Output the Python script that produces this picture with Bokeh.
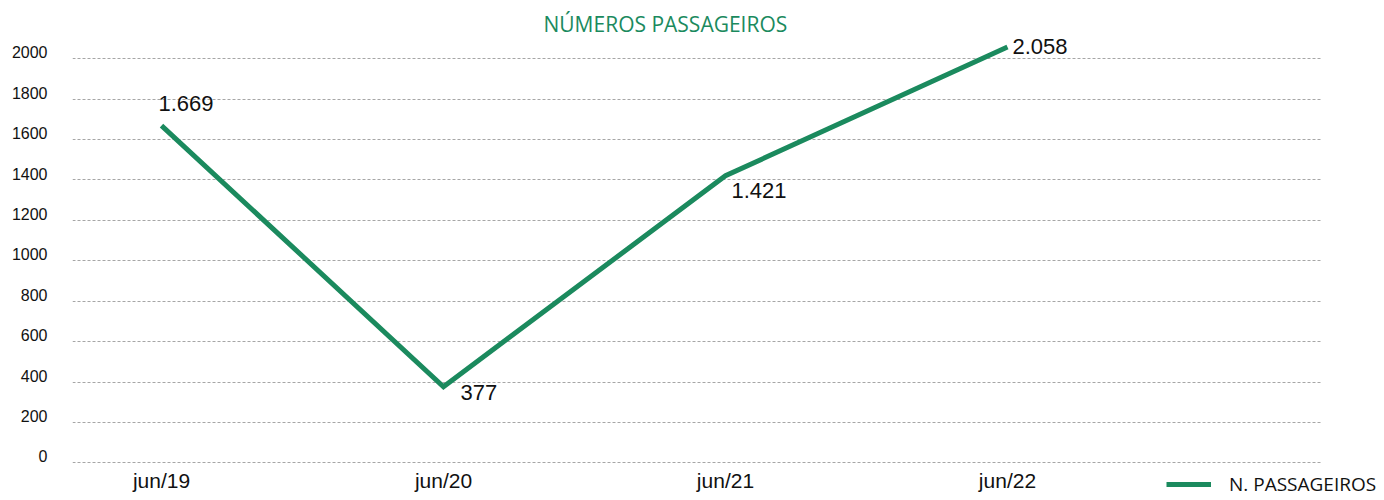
from bokeh.plotting import figure
from bokeh.models import (ColumnDataSource, LabelSet, Legend, LegendItem,
                          FixedTicker, Range1d, LinearAxis)
from bokeh.core.properties import value
from bokeh.embed import file_html
from bokeh.resources import INLINE

# ---- data ----
categories = ["jun/19", "jun/20", "jun/21", "jun/22"]
passengers = [1669, 377, 1421, 2058]
value_labels = ["1.669", "377", "1.421", "2.058"]
y_ticks = [0, 200, 400, 600, 800, 1000, 1200, 1400, 1600, 1800, 2000]
series_name = "N. PASSAGEIROS"
title_text = "NÚMEROS PASSAGEIROS"

# label offsets (style, px)
label_dx = [-3, 17, 6, 5]
label_dy = [22, -6, -15, 0]

GREEN = "#1b8a5e"
X_START, X_END, GRID_END = -0.3156, 4.337, 4.1135

x_idx = list(range(len(categories)))
src = ColumnDataSource(dict(x=x_idx, y=passengers, txt=value_labels,
                            dx=label_dx, dy=label_dy))

p = figure(width=1384, height=500, output_backend="svg",
           toolbar_location=None, y_axis_location=None,
           x_range=Range1d(X_START, X_END), y_range=Range1d(-186, 2100),
           min_border_left=72, min_border_right=0, min_border_top=38,
           min_border_bottom=0)
p.outline_line_color = None
p.background_fill_color = "white"
p.border_fill_color = "white"

p.title.text = title_text
p.title.align = "left"
p.title.text_font = "Open Sans"
p.title.text_font_style = "normal"
p.title.text_font_size = "21px"
p.title.text_color = GREEN
p.title.offset = 471
p.title.standoff = 2

# grid lines (dashed, ending before the legend area)
p.xgrid.grid_line_color = None
p.ygrid.ticker = FixedTicker(ticks=y_ticks)
try:
    p.ygrid.cross_bounds = (X_START, GRID_END)
    p.ygrid.grid_line_color = "#a6a6a6"
    p.ygrid.grid_line_dash = "3 2"
    p.ygrid.grid_line_width = 1
except Exception:
    p.ygrid.grid_line_color = None
    p.segment(x0=[X_START] * len(y_ticks), x1=[GRID_END] * len(y_ticks),
              y0=y_ticks, y1=y_ticks, line_color="#a6a6a6",
              line_dash="3 2", line_width=1)

line = p.line("x", "y", source=src, line_color=GREEN, line_width=5,
              line_join="miter")

labels = LabelSet(x="x", y="y", text="txt", source=src, x_offset="dx",
                  y_offset="dy", text_font=value("Liberation Sans"),
                  text_font_size="22px", text_color="#111111",
                  text_baseline="middle", text_align="left")
p.add_layout(labels)

# x axis drawn at y = 0
p.xaxis.fixed_location = 0
p.xaxis.ticker = FixedTicker(ticks=x_idx)
p.xaxis.major_label_overrides = {i: c for i, c in zip(x_idx, categories)}
p.xaxis.axis_line_color = None
p.xaxis.major_tick_line_color = None
p.xaxis.minor_tick_line_color = None
p.xaxis.major_tick_out = 0
p.xaxis.major_tick_in = 0
p.xaxis.major_label_text_font = "Liberation Sans"
p.xaxis.major_label_text_font_size = "21px"
p.xaxis.major_label_text_color = "#111111"
p.xaxis.major_label_standoff = 6

# y axis (labels sit slightly above their gridlines, as in the original)
p.extra_y_ranges = {"lbl": Range1d(-218, 2068)}
yax = LinearAxis(y_range_name="lbl", ticker=FixedTicker(ticks=y_ticks),
                 axis_line_color=None, major_tick_line_color=None,
                 minor_tick_line_color=None, major_tick_out=0,
                 major_tick_in=0, major_label_standoff=25,
                 major_label_text_font="Liberation Sans",
                 major_label_text_font_size="16px",
                 major_label_text_color="#111111")
p.add_layout(yax, "left")

legend = Legend(items=[LegendItem(label=series_name, renderers=[line])],
                location=(1094, 3), orientation="horizontal",
                glyph_width=45, glyph_height=20, label_height=20,
                label_standoff=18, padding=0, margin=0, spacing=0,
                border_line_color=None, background_fill_alpha=0,
                label_text_font="Open Sans", label_text_font_size="19px",
                label_text_color="#111111")
p.add_layout(legend, "center")

open("out.html", "w").write(file_html(p, INLINE))
